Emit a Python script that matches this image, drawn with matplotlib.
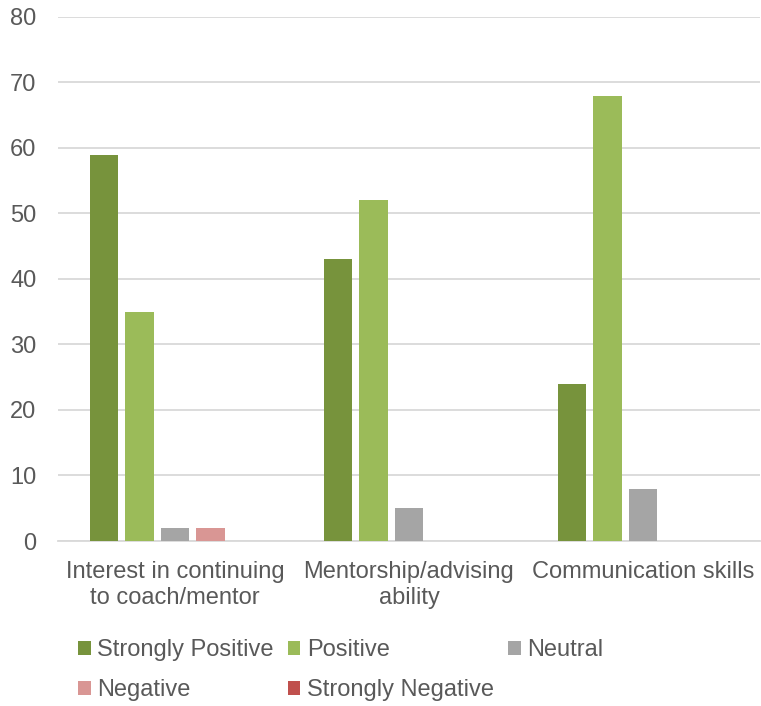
import matplotlib
matplotlib.use("Agg")
import matplotlib.pyplot as plt
import numpy as np
from matplotlib.patches import Patch

plt.rcParams['font.family'] = ['Liberation Sans', 'DejaVu Sans']

categories = ["Interest in continuing\nto coach/mentor", "Mentorship/advising\nability", "Communication skills"]
series_names = ["Strongly Positive", "Positive", "Neutral", "Negative", "Strongly Negative"]
strongly_positive = [59, 43, 24]
positive = [35, 52, 68]
neutral = [2, 5, 8]
negative = [2, 0, 0]
strongly_negative = [0, 0, 0]
colors = ["#77933C", "#9BBB59", "#A5A5A5", "#D99694", "#C0504D"]
yticks = [0, 10, 20, 30, 40, 50, 60, 70, 80]

series = [strongly_positive, positive, neutral, negative, strongly_negative]

fig = plt.figure(figsize=(7.61, 7.06), dpi=100)
ax = fig.add_axes([0.0762, 0.2337, 0.9225, 0.7423])

x = np.arange(len(categories))
step = 0.152
width = 0.122
for i, (vals, c) in enumerate(zip(series, colors)):
    ax.bar(x + (i - 2) * step, vals, width=width, color=c, zorder=3, label=series_names[i])

ax.set_xlim(-0.5, 2.5)
ax.set_ylim(0, 80)
ax.set_yticks(yticks)
ax.yaxis.grid(True, color="#D9D9D9", linewidth=1.3, zorder=0)
ax.set_axisbelow(True)
for s in ["top", "right", "left"]:
    ax.spines[s].set_visible(False)
ax.spines["bottom"].set_color("#D9D9D9")
ax.spines["bottom"].set_linewidth(1.3)
ax.tick_params(axis="y", length=0, labelsize=17, labelcolor="#595959", pad=15.5)
ax.tick_params(axis="x", length=0, labelsize=17, labelcolor="#595959", pad=14.5)
ax.set_xticks(x)
ax.set_xticklabels(categories, linespacing=1.2)

# row-major order for a 3-column legend (matplotlib fills column-major)
order = [0, 3, 1, 4, 2]
handles = [Patch(facecolor=colors[k], edgecolor="none") for k in order]
labels = [series_names[k] for k in order]
leg = fig.legend(handles, labels, loc="upper left", bbox_to_anchor=(0.1025, 0.095),
                 ncol=3, frameon=False, fontsize=17, labelcolor="#595959",
                 handlelength=0.53, handleheight=0.53, handletextpad=0.28,
                 columnspacing=0.6, labelspacing=0.78, borderaxespad=0, borderpad=0)

fig.savefig("out.png", dpi=100)
